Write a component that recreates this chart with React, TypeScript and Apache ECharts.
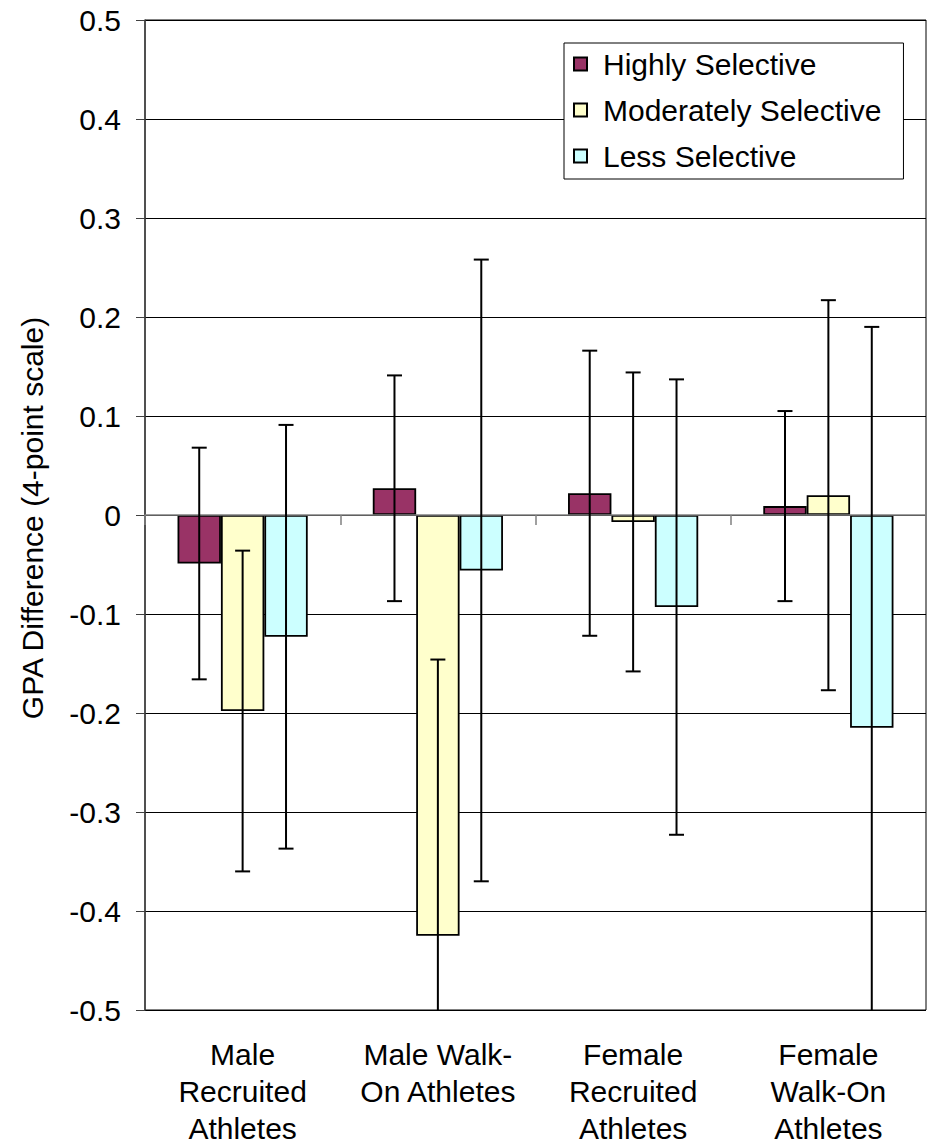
import React, { useEffect, useRef } from "react";
import * as echarts from "echarts";

// Athlete groups along the category axis
const CATEGORIES = [
  "Male\nRecruited\nAthletes",
  "Male Walk-\nOn Athletes",
  "Female\nRecruited\nAthletes",
  "Female\nWalk-On\nAthletes",
];

const SERIES_NAMES = ["Highly Selective", "Moderately Selective", "Less Selective"];

// GPA difference and error half-width per group
const HIGHLY = [-0.049, 0.027, 0.022, 0.009];
const HIGHLY_ERR = [0.117, 0.114, 0.144, 0.096];
const MODERATELY = [-0.198, -0.425, -0.007, 0.02];
const MODERATELY_ERR = [0.162, 0.279, 0.151, 0.197];
const LESS = [-0.123, -0.056, -0.093, -0.215];
const LESS_ERR = [0.214, 0.314, 0.23, 0.405];

// Value axis range
const Y_MIN = -0.5;
const Y_MAX = 0.5;
const Y_STEP = 0.1;

const COLORS = ["#993366", "#FFFFCC", "#CCFFFF"];
const FONT = 'Arial, "Liberation Sans", sans-serif';
const BAR_WIDTH = 43.4;

export default function App() {
  const ref = useRef<HTMLDivElement>(null);

  useEffect(() => {
    if (!ref.current) return;
    const chart = echarts.init(ref.current, undefined, { renderer: "svg" });

    const values = [HIGHLY, MODERATELY, LESS];
    const errors = [HIGHLY_ERR, MODERATELY_ERR, LESS_ERR];

    const barSeries = values.map((vals, s) => ({
      name: SERIES_NAMES[s],
      type: "bar",
      xAxisIndex: 0,
      yAxisIndex: 0,
      data: vals,
      barWidth: BAR_WIDTH,
      barGap: "0%",
      itemStyle: { color: COLORS[s], borderColor: "#000", borderWidth: 1.8 },
      z: 3,
    }));

    // Error bars drawn centred on each bar, clamped to the value axis range
    const errorSeries = values.map((vals, s) => {
      const offset = (s - 1) * BAR_WIDTH;
      return {
        name: SERIES_NAMES[s] + " error",
        type: "custom",
        xAxisIndex: 0,
        yAxisIndex: 0,
        z: 5,
        data: vals.map((v, i) => [i, v - errors[s][i], v + errors[s][i]]),
        encode: { x: 0, y: [1, 2] },
        renderItem: (_params: any, api: any) => {
          const idx = api.value(0);
          const lo = api.value(1);
          const hi = api.value(2);
          const top = api.coord([idx, Math.min(hi, Y_MAX)]);
          const bot = api.coord([idx, Math.max(lo, Y_MIN)]);
          const x = top[0] + offset;
          const style = { stroke: "#000", lineWidth: 2 };
          const children: any[] = [
            { type: "line", shape: { x1: x, y1: top[1], x2: x, y2: bot[1] }, style },
          ];
          if (hi <= Y_MAX) {
            children.push({ type: "line", shape: { x1: x - 7.5, y1: top[1], x2: x + 7.5, y2: top[1] }, style });
          }
          if (lo >= Y_MIN) {
            children.push({ type: "line", shape: { x1: x - 7.5, y1: bot[1], x2: x + 7.5, y2: bot[1] }, style });
          }
          return { type: "group", children };
        },
      };
    });

    chart.setOption({
      animation: false,
      backgroundColor: "#fff",
      textStyle: { fontFamily: FONT },
      grid: {
        left: 145,
        right: 2,
        top: 20,
        bottom: 135,
        show: true,
        borderColor: "#000",
        borderWidth: 1,
        backgroundColor: "transparent",
      },
      legend: {
        data: SERIES_NAMES,
        orient: "vertical",
        left: 564,
        top: 43,
        icon: "rect",
        itemWidth: 13,
        itemHeight: 13,
        itemGap: 12,
        padding: [4, 22, 6, 9],
        backgroundColor: "#fff",
        borderColor: "#000",
        borderWidth: 1,
        textStyle: { fontSize: 30, lineHeight: 34, color: "#000", fontFamily: FONT, padding: [0, 0, 0, 11] },
      },
      xAxis: [
        {
          type: "category",
          data: CATEGORIES,
          axisLine: { onZero: true, lineStyle: { color: "#808080", width: 1.5 } },
          axisTick: { show: true, length: 10, lineStyle: { color: "#808080", width: 1.5 } },
          axisLabel: { show: false },
          splitLine: { show: false },
          z: 4,
        },
        {
          type: "category",
          data: CATEGORIES,
          position: "bottom",
          axisLine: { show: false, onZero: false },
          axisTick: { show: false },
          axisLabel: {
            interval: 0,
            fontSize: 30,
            lineHeight: 37,
            margin: 26,
            color: "#000",
            fontFamily: FONT,
          },
          splitLine: { show: false },
        },
      ],
      yAxis: {
        type: "value",
        min: Y_MIN,
        max: Y_MAX,
        interval: Y_STEP,
        axisLine: { show: true, lineStyle: { color: "#404040", width: 1.5 } },
        axisTick: { show: true, length: 9, lineStyle: { color: "#404040" } },
        axisLabel: {
          fontSize: 30,
          color: "#000",
          margin: 24,
          fontFamily: FONT,
          formatter: (v: number) => String(Math.round(v * 10) / 10),
        },
        splitLine: { show: true, lineStyle: { color: "#000", width: 1 } },
      },
      graphic: [
        {
          type: "text",
          x: 32,
          y: 518,
          rotation: Math.PI / 2,
          style: {
            text: "GPA Difference (4-point scale)",
            font: `30px ${FONT}`,
            fill: "#000",
            textAlign: "center",
            textVerticalAlign: "middle",
          },
        },
      ],
      series: [...barSeries, ...errorSeries],
    });

    return () => chart.dispose();
  }, []);

  return (
    <div
      ref={ref}
      style={{ position: "absolute", left: 0, top: 0, width: 928, height: 1147 }}
    />
  );
}
